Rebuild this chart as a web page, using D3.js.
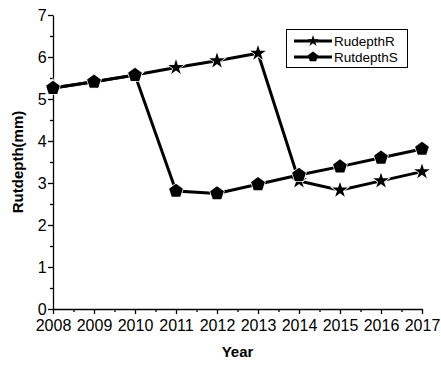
<!DOCTYPE html>
<html>
<head>
<meta charset="utf-8">
<script src="https://cdn.jsdelivr.net/npm/d3@7"></script>
<style>
  body { margin: 0; background: #fff; }
  text { font-family: "Liberation Sans", Arial, sans-serif; }
</style>
</head>
<body>
<script>
var years = [2008, 2009, 2010, 2011, 2012, 2013, 2014, 2015, 2016, 2017];
var rudepthR = [5.26, 5.41, 5.57, 5.75, 5.91, 6.09, 3.05, 2.83, 3.05, 3.27];
var rutdepthS = [5.26, 5.41, 5.57, 2.81, 2.75, 2.97, 3.19, 3.39, 3.60, 3.81];
var seriesNames = ["RudepthR", "RutdepthS"];
var yTicks = [0, 1, 2, 3, 4, 5, 6, 7];

var width = 441, height = 365;
var margin = {left: 53, right: 19, top: 15, bottom: 56};

var svg = d3.select("body").append("svg").attr("width", width).attr("height", height);

var x = d3.scaleLinear().domain([2008, 2017]).range([margin.left, width - margin.right]);
var y = d3.scaleLinear().domain([0, 7]).range([height - margin.bottom, margin.top]);

// pentagon symbol
var pentagon = {
  draw: function(context, size) {
    var r = Math.sqrt(size / 2.3776);
    for (var i = 0; i < 5; i++) {
      var a = -Math.PI / 2 + i * 2 * Math.PI / 5;
      if (i == 0) context.moveTo(r * Math.cos(a), r * Math.sin(a));
      else context.lineTo(r * Math.cos(a), r * Math.sin(a));
    }
    context.closePath();
  }
};
var shapes = [d3.symbolStar, pentagon];
var sizes = [75, 125];

// axes
var gx = svg.append("g").attr("transform", "translate(0," + y(0) + ")")
  .call(d3.axisBottom(x).tickValues(years).tickFormat(d3.format("d")).tickSize(5).tickSizeOuter(0));
gx.selectAll("text").attr("font-size", 16).attr("dy", "0.9em").attr("fill", "#000");
svg.append("g").attr("transform", "translate(0," + y(0) + ")")
  .call(d3.axisBottom(x).tickValues(years.slice(0, -1).map(function(d){ return d + 0.5; })).tickFormat("").tickSize(3))
  .select(".domain").remove();

var gy = svg.append("g").attr("transform", "translate(" + x(2008) + ",0)")
  .call(d3.axisLeft(y).tickValues(yTicks).tickFormat(d3.format("d")).tickSize(5).tickSizeOuter(0));
gy.selectAll("text").attr("font-size", 16).attr("dx", "0.1em").attr("fill", "#000");
svg.append("g").attr("transform", "translate(" + x(2008) + ",0)")
  .call(d3.axisLeft(y).tickValues(yTicks.slice(0, -1).map(function(d){ return d + 0.5; })).tickFormat("").tickSize(3))
  .select(".domain").remove();
svg.selectAll(".domain, .tick line").attr("stroke", "#000").attr("stroke-width", 1.3);

// axis titles
svg.append("text").attr("x", (x(2008) + x(2017)) / 2).attr("y", 357)
  .attr("text-anchor", "middle").attr("font-size", 15).attr("font-weight", "bold").text("Year");
svg.append("text").attr("transform", "translate(23," + ((y(0) + y(7)) / 2) + ") rotate(-90)")
  .attr("text-anchor", "middle").attr("font-size", 15).attr("font-weight", "bold").text("Rutdepth(mm)");

// series
var line = d3.line().x(function(d, i){ return x(years[i]); }).y(function(d){ return y(d); });
[rudepthR, rutdepthS].forEach(function(vals, k) {
  svg.append("path").datum(vals).attr("d", line)
    .attr("fill", "none").attr("stroke", "#000").attr("stroke-width", 3);
  svg.append("g").selectAll("path").data(vals).enter().append("path")
    .attr("transform", function(d, i){ return "translate(" + x(years[i]) + "," + y(d) + ")"; })
    .attr("d", d3.symbol().type(shapes[k]).size(sizes[k]))
    .attr("fill", "#000").attr("stroke", "#fff").attr("stroke-width", 1.5).attr("paint-order", "stroke");
});

// legend
var lg = svg.append("g");
lg.append("rect").attr("x", 286.5).attr("y", 29.5).attr("width", 121).attr("height", 38)
  .attr("fill", "#fff").attr("stroke", "#000").attr("stroke-width", 1);
seriesNames.forEach(function(name, k) {
  var ly = 41 + k * 16;
  lg.append("line").attr("x1", 294).attr("x2", 332).attr("y1", ly).attr("y2", ly)
    .attr("stroke", "#000").attr("stroke-width", 3);
  lg.append("path").attr("transform", "translate(313," + ly + ")")
    .attr("d", d3.symbol().type(shapes[k]).size(sizes[k] * 0.55)).attr("fill", "#000");
  lg.append("text").attr("x", 334).attr("y", ly + 5).attr("font-size", 13.5).text(name);
});
</script>
</body>
</html>
